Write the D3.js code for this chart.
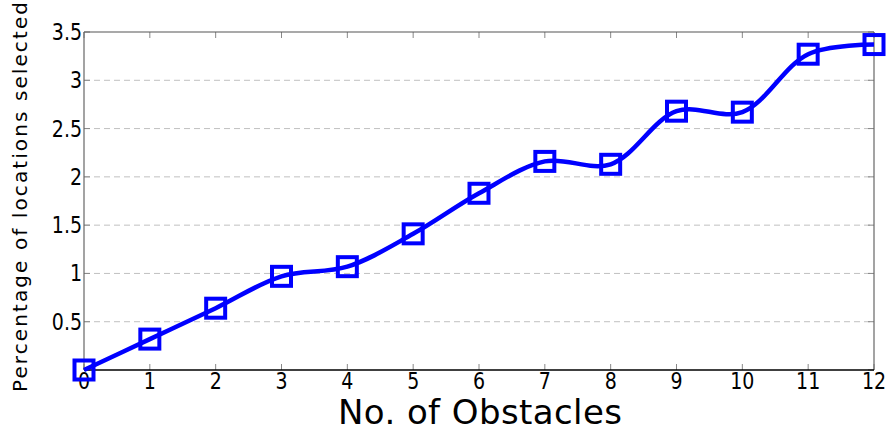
<!DOCTYPE html>
<html>
<head>
<meta charset="utf-8">
<script src="https://cdn.jsdelivr.net/npm/d3@7"></script>
<style>
  html, body { margin: 0; padding: 0; background: #fff; }
  svg { display: block; font-family: "DejaVu Sans", sans-serif; }
</style>
</head>
<body>
<svg id="chart" width="891" height="432"></svg>
<script>
// Obstacle counts and the share of candidate locations selected (%)
const obstacles = [0, 1, 2, 3, 4, 5, 6, 7, 8, 9, 10, 11, 12];
const percentSelected = [0.0, 0.32, 0.64, 0.97, 1.07, 1.41, 1.83, 2.16, 2.13, 2.68, 2.67, 3.27, 3.37];
const yTicks = [0, 0.5, 1, 1.5, 2, 2.5, 3, 3.5];
const yTickLabels = ["", "0.5", "1", "1.5", "2", "2.5", "3", "3.5"];
const xTicks = obstacles;

const svg = d3.select("#chart");
const plot = { left: 84, right: 874, top: 32, bottom: 370 };

const x = d3.scaleLinear().domain([0, 12]).range([plot.left, plot.right]);
const y = d3.scaleLinear().domain([0, 3.5]).range([plot.bottom, plot.top]);

// dashed horizontal grid
svg.append("g")
  .selectAll("line")
  .data(yTicks.filter(v => v > 0 && v < 3.5))
  .join("line")
  .attr("x1", plot.left).attr("x2", plot.right)
  .attr("y1", d => y(d)).attr("y2", d => y(d))
  .attr("stroke", "#c0c0c0")
  .attr("stroke-width", 1)
  .attr("stroke-dasharray", "6,4");

// inward tick marks on all four sides
const tickLen = 6;
const tickColor = "#888";
const ticks = svg.append("g");
xTicks.forEach(v => {
  ticks.append("line").attr("x1", x(v)).attr("x2", x(v))
    .attr("y1", plot.bottom).attr("y2", plot.bottom - tickLen)
    .attr("stroke", tickColor);
  ticks.append("line").attr("x1", x(v)).attr("x2", x(v))
    .attr("y1", plot.top).attr("y2", plot.top + tickLen)
    .attr("stroke", tickColor);
});
yTicks.forEach(v => {
  ticks.append("line").attr("x1", plot.left).attr("x2", plot.left + tickLen)
    .attr("y1", y(v)).attr("y2", y(v)).attr("stroke", tickColor);
  ticks.append("line").attr("x1", plot.right).attr("x2", plot.right - tickLen)
    .attr("y1", y(v)).attr("y2", y(v)).attr("stroke", tickColor);
});

// frame
svg.append("line").attr("x1", plot.left).attr("x2", plot.right)
  .attr("y1", plot.top).attr("y2", plot.top).attr("stroke", "#555").attr("stroke-width", 1.2);
svg.append("line").attr("x1", plot.left).attr("x2", plot.left)
  .attr("y1", plot.top).attr("y2", plot.bottom).attr("stroke", "#666").attr("stroke-width", 1.2);
svg.append("line").attr("x1", plot.right).attr("x2", plot.right)
  .attr("y1", plot.top).attr("y2", plot.bottom).attr("stroke", "#666").attr("stroke-width", 1.2);
svg.append("line").attr("x1", plot.left).attr("x2", plot.right)
  .attr("y1", plot.bottom).attr("y2", plot.bottom).attr("stroke", "#000").attr("stroke-width", 1.5);

// tick labels (slightly tall digits)
svg.append("g")
  .selectAll("text")
  .data(xTicks)
  .join("text")
  .attr("transform", d => `translate(${x(d)},${plot.bottom + 19}) scale(1,1.2)`)
  .attr("text-anchor", "middle")
  .attr("font-size", 19)
  .attr("fill", "#000")
  .text(d => d);

svg.append("g")
  .selectAll("text")
  .data(yTicks)
  .join("text")
  .attr("transform", d => `translate(${plot.left - 2},${y(d) + 8}) scale(1,1.2)`)
  .attr("text-anchor", "end")
  .attr("font-size", 19)
  .attr("fill", "#000")
  .text((d, i) => yTickLabels[i]);

// axis titles
svg.append("text")
  .attr("x", 480).attr("y", 424)
  .attr("text-anchor", "middle")
  .attr("font-size", 34)
  .attr("textLength", 284)
  .attr("lengthAdjust", "spacing")
  .attr("fill", "#000")
  .text("No. of Obstacles");

svg.append("text")
  .attr("transform", "translate(27,197) rotate(-90)")
  .attr("text-anchor", "middle")
  .attr("font-size", 20)
  .attr("textLength", 390)
  .attr("lengthAdjust", "spacing")
  .attr("fill", "#000")
  .text("Percentage of locations selected");

// smoothed series line
const pts = obstacles.map((o, i) => [o, percentSelected[i]]);
const line = d3.line()
  .x(d => x(d[0]))
  .y(d => y(d[1]))
  .curve(d3.curveCatmullRom);

svg.append("path")
  .datum(pts)
  .attr("d", line)
  .attr("fill", "none")
  .attr("stroke", "#0000ff")
  .attr("stroke-width", 4.5)
  .attr("stroke-linejoin", "round");

// hollow square markers
const ms = 19;
svg.append("g")
  .selectAll("rect")
  .data(pts)
  .join("rect")
  .attr("x", d => x(d[0]) - ms / 2)
  .attr("y", d => y(d[1]) - ms / 2)
  .attr("width", ms)
  .attr("height", ms)
  .attr("fill", "none")
  .attr("stroke", "#0000ff")
  .attr("stroke-width", 4);
</script>
</body>
</html>
